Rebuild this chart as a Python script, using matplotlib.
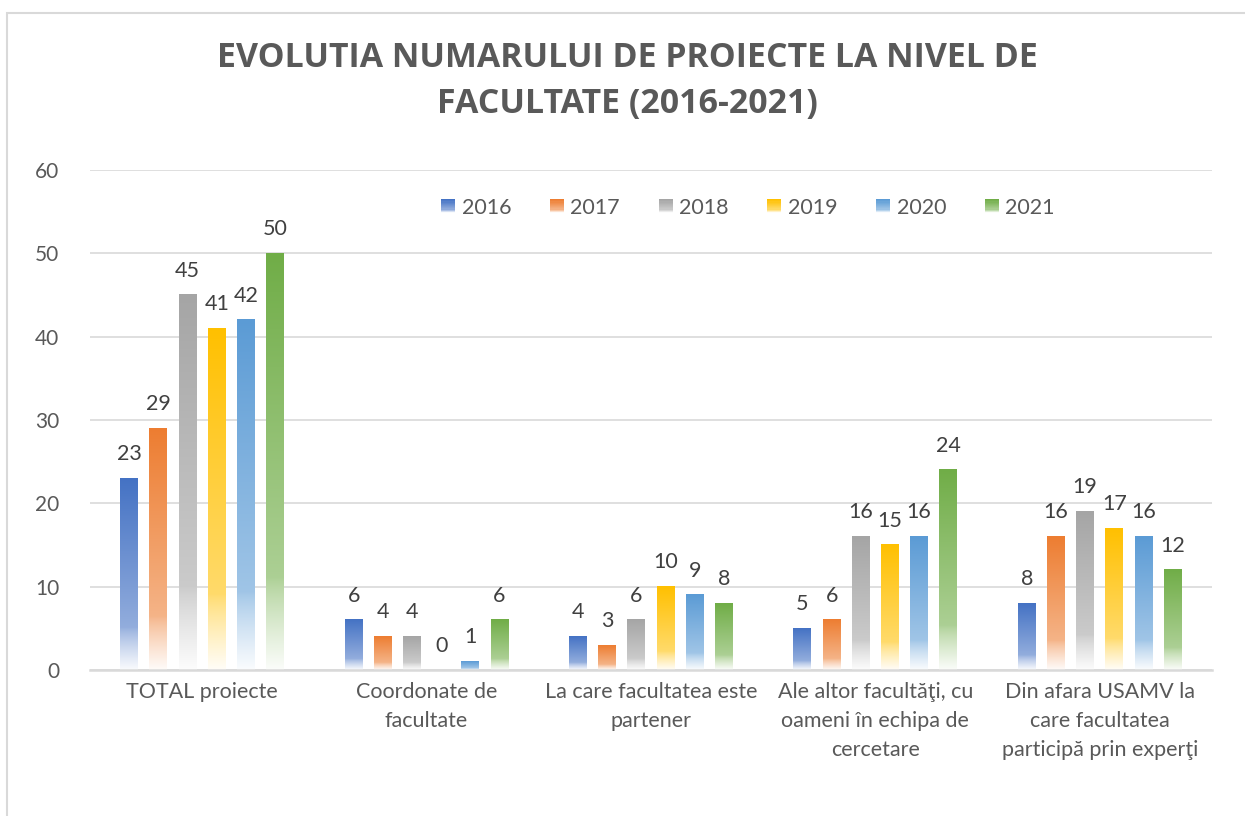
import numpy as np
import matplotlib
matplotlib.use("Agg")
import matplotlib.pyplot as plt
from matplotlib.patches import Rectangle
from matplotlib.legend_handler import HandlerBase
from matplotlib.colors import to_rgb

plt.rcParams['font.family'] = ['Lato', 'DejaVu Sans']

categories = ["TOTAL proiecte", "Coordonate de\nfacultate", "La care facultatea este\npartener",
              "Ale altor facultăţi, cu\noameni în echipa de\ncercetare",
              "Din afara USAMV la\ncare facultatea\nparticipă prin experţi"]
years = ["2016", "2017", "2018", "2019", "2020", "2021"]
values = {
    "2016": [23, 6, 4, 5, 8],
    "2017": [29, 4, 3, 6, 16],
    "2018": [45, 4, 6, 16, 19],
    "2019": [41, 0, 10, 15, 17],
    "2020": [42, 1, 9, 16, 16],
    "2021": [50, 6, 8, 24, 12],
}
colors = ["#4472C4", "#ED7D31", "#A5A5A5", "#FFC000", "#5B9BD5", "#70AD47"]
title_lines = ["EVOLUTIA NUMARULUI DE PROIECTE LA NIVEL DE", "FACULTATE (2016-2021)"]
yticks = [0, 10, 20, 30, 40, 50, 60]

W, H = 1245, 816
fig = plt.figure(figsize=(W / 100, H / 100), dpi=100)
fig.patch.set_facecolor("white")

# chart border (left + top visible)
fig.add_artist(Rectangle((7 / W, -0.5), 2.0, 1 - 13 / H + 0.5, transform=fig.transFigure,
                         fill=False, edgecolor="#D9D9D9", linewidth=1.5))

ax = fig.add_axes([90 / W, 1 - 670 / H, 1122 / W, 500 / H])
ax.set_xlim(-0.5, 4.5)
ax.set_ylim(0, 60)


def whiteness(f):
    # f: 0 at top of bar -> 1 at bottom
    return np.where(f < 0.78, 0.42 * f / 0.78, 0.42 + (0.97 - 0.42) * ((f - 0.78) / 0.22) ** 0.8)


def grad_img(color, n=200):
    c = np.array(to_rgb(color))
    f = np.linspace(0, 1, n)
    w = whiteness(f)[:, None]
    img = c[None, :] * (1 - w) + w
    return img[:, None, :]


step = 0.13
bw = 0.08
xs = np.arange(len(categories))
for i, (yr, col) in enumerate(zip(years, colors)):
    vals = values[yr]
    pos = xs + (i - 2.5) * step
    bars = ax.bar(pos, vals, width=bw, color="none", edgecolor="none", zorder=2)
    img = grad_img(col)
    for b, v in zip(bars, vals):
        if v > 0:
            x0 = b.get_x()
            ax.imshow(img, extent=[x0, x0 + bw, 0, v], aspect="auto", zorder=2,
                      interpolation="bilinear", origin="upper")
        ax.annotate(str(v), (b.get_x() + bw / 2, v), xytext=(0, 17.5), textcoords="offset points",
                    ha="center", va="center", fontsize=15.5, color="#404040")

ax.set_xlim(-0.5, 4.5)
ax.set_ylim(0, 60)
ax.set_yticks(yticks)
ax.set_yticklabels([str(t) for t in yticks], fontsize=15, color="#595959")
ax.set_xticks(xs)
ax.set_xticklabels(categories, fontsize=15.5, color="#595959", linespacing=1.55)
ax.tick_params(axis="y", length=0, pad=22)
ax.tick_params(axis="x", length=0, pad=9)
ax.grid(axis="y", color="#D9D9D9", linewidth=1.2, zorder=0)
ax.set_axisbelow(True)
for s in ["top", "right", "left"]:
    ax.spines[s].set_visible(False)
ax.spines["bottom"].set_color("#D9D9D9")
ax.spines["bottom"].set_linewidth(1.8)


class HandlerGrad(HandlerBase):
    def __init__(self, color):
        super().__init__()
        self.color = color

    def create_artists(self, legend, orig_handle, xdescent, ydescent, width, height, fontsize, trans):
        n = 12
        img = grad_img(self.color, n)[:, 0, :]
        size = min(width, height) * 1.0
        x0 = -xdescent + (width - size) / 2
        y0 = -ydescent + (height - size) / 2
        arts = []
        for k in range(n):
            r = Rectangle((x0, y0 + size * (n - 1 - k) / n), size, size / n + 0.3,
                          facecolor=img[k], edgecolor="none", transform=trans)
            arts.append(r)
        return arts


handles = [Rectangle((0, 0), 1, 1, color=c) for c in colors]
hmap = {h: HandlerGrad(c) for h, c in zip(handles, colors)}
leg = ax.legend(handles, years, handler_map=hmap, ncol=6, loc="center",
                bbox_to_anchor=((748 - 90) / 1122, (670 - 208) / 500), frameon=False,
                fontsize=15.5, handlelength=0.65, handleheight=0.65, handletextpad=0.3,
                columnspacing=1.8)
for t in leg.get_texts():
    t.set_color("#595959")

fig.text(627 / W, 1 - 58 / H, title_lines[0], ha="center", va="center", fontsize=24.4,
         fontweight="bold", color="#595959", family=["Open Sans", "DejaVu Sans"])
fig.text(627 / W, 1 - 104 / H, title_lines[1], ha="center", va="center", fontsize=24.4,
         fontweight="bold", color="#595959", family=["Open Sans", "DejaVu Sans"])

fig.savefig("out.png", dpi=100, facecolor="white")
